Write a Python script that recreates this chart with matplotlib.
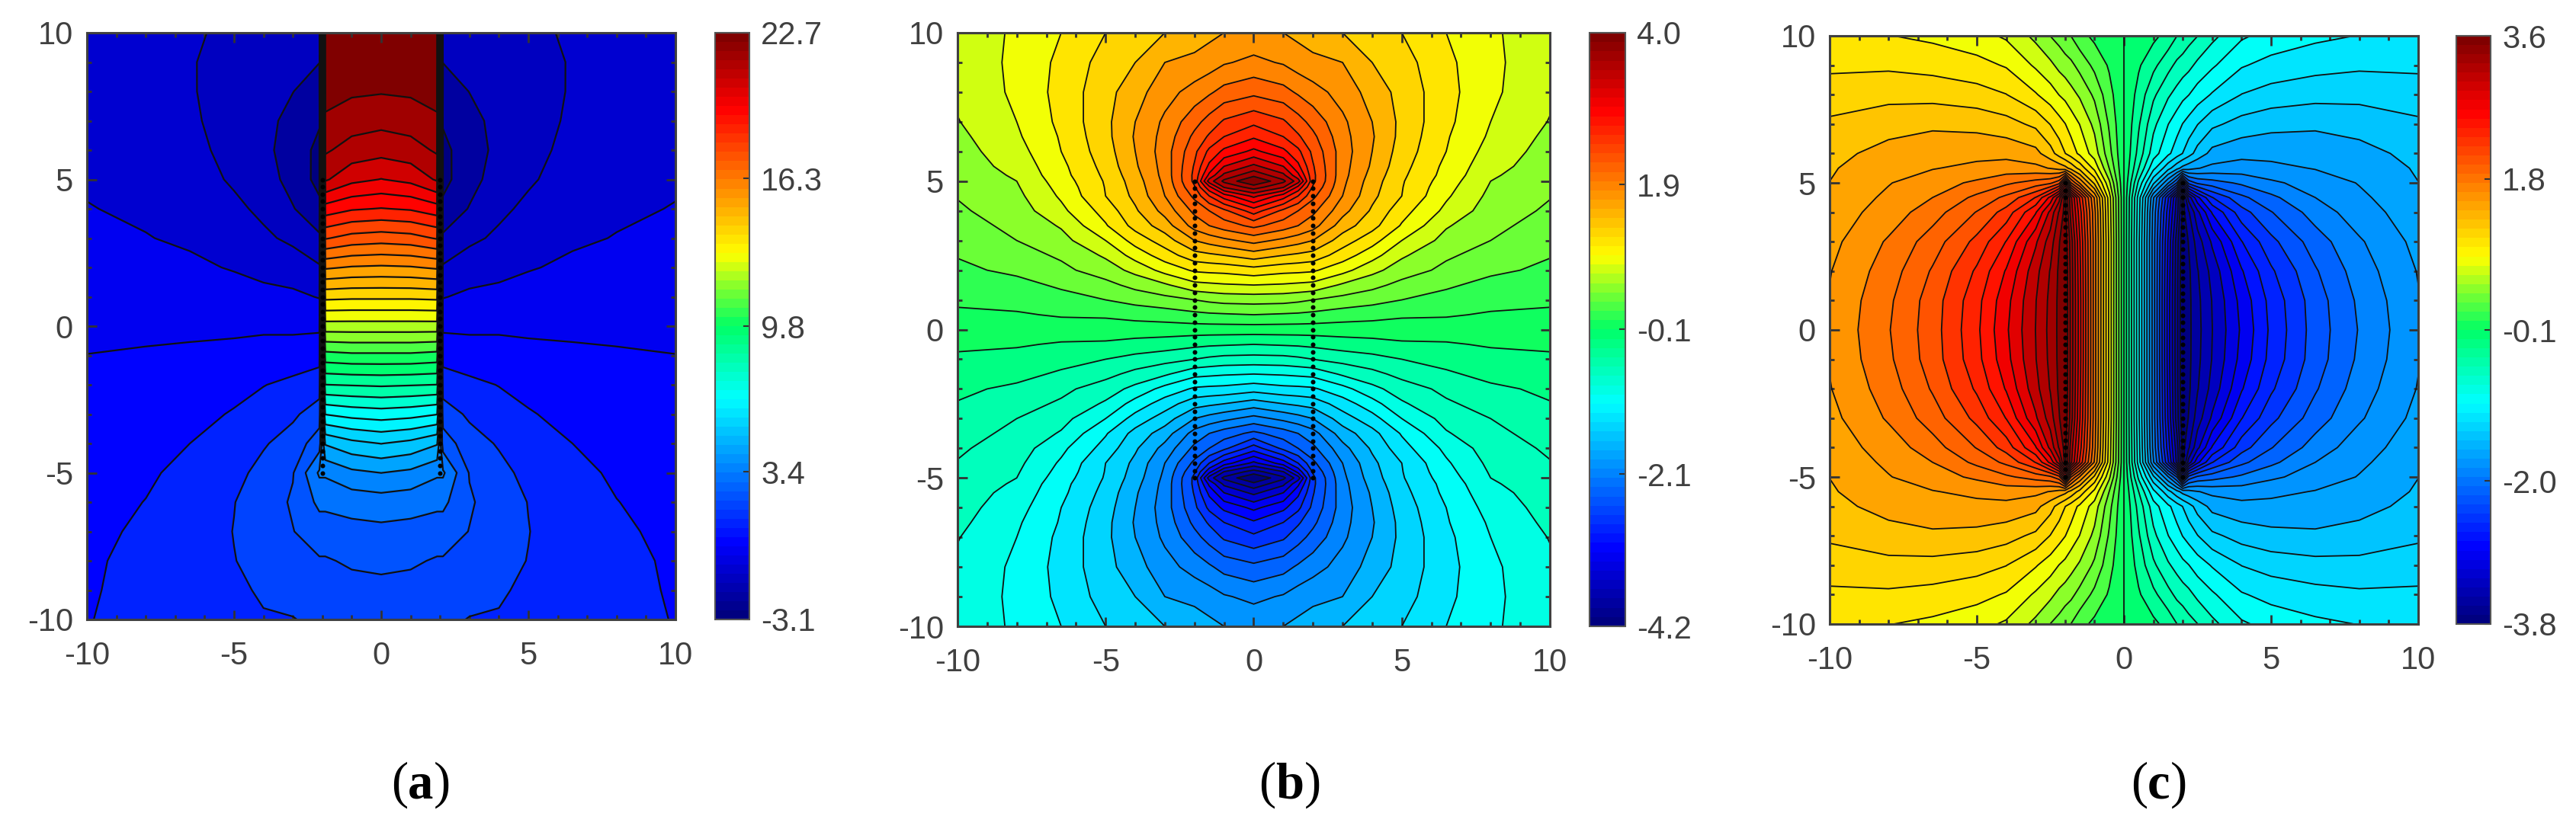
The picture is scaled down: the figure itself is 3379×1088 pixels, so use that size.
import matplotlib
matplotlib.use('Agg')
import matplotlib.pyplot as plt
from matplotlib.cm import ScalarMappable
from matplotlib.colors import LinearSegmentedColormap, Normalize
from matplotlib.ticker import MultipleLocator
import numpy as np

plt.rcParams['font.family'] = ['Liberation Sans', 'DejaVu Sans']
plt.rcParams['axes.unicode_minus'] = False

W, H = 3380, 1088

# values, right half of panel a (x >= 0), top row first
xa = [0, 1, 1.9, 2.1, 3, 4, 5, 6.5, 8, 10]
ya = [10, 9, 8, 7, 6, 5, 4, 3, 2, 1, 0, -1, -2, -3, -4, -5, -6, -7, -8, -9, -10]
za = [
    [22.7, 22.7, 22.7, -1.5, -1.35, -1.35, -1.27, -1.1, -.95, -.8],
    [22.5, 22.55, 22.6, -1.8, -1.55, -1.45, -1.35, -1.13, -.93, -.78],
    [22.1, 22.15, 22.3, -2.1, -1.8, -1.55, -1.4, -1.12, -.9, -.74],
    [21.6, 21.7, 21.95, -2.4, -2.0, -1.62, -1.42, -1.07, -.85, -.7],
    [21.0, 21.15, 21.5, -2.6, -2.15, -1.62, -1.35, -1.0, -.8, -.65],
    [20.1, 20.3, 20.85, -2.65, -2.05, -1.5, -1.25, -.88, -.7, -.58],
    [18.8, 18.9, 19.2, -2.3, -1.77, -1.3, -1.03, -.73, -.6, -.5],
    [17.2, 17.3, 17.6, -1.7, -1.3, -1.05, -.8, -.6, -.5, -.38],
    [15.5, 15.55, 15.7, -1.1, -.83, -.68, -.56, -.42, -.35, -.25],
    [13.8, 13.8, 13.85, -.55, -.4, -.37, -.28, -.2, -.17, -.1],
    [12.1, 12.1, 12.1, 0, 0, 0, 0, 0, 0, .03],
    [10.3, 10.3, 10.2, .55, .42, .42, .3, .23, .18, .13],
    [8.6, 8.55, 8.5, 1.1, .92, .75, .58, .4, .35, .25],
    [6.9, 6.8, 6.6, 1.75, 1.3, 1.05, .82, .58, .48, .37],
    [5.3, 5.1, 4.7, 2.4, 1.7, 1.35, 1.0, .77, .6, .47],
    [4.0, 3.85, 3.45, 3.45, 2.02, 1.62, 1.22, .9, .7, .54],
    [3.05, 2.97, 2.85, 2.85, 2.14, 1.72, 1.4, 1.02, .78, .6],
    [2.55, 2.5, 2.4, 2.4, 2.04, 1.72, 1.43, 1.08, .85, .65],
    [2.2, 2.15, 2.0, 2.0, 1.75, 1.58, 1.4, 1.1, .9, .7],
    [1.9, 1.85, 1.7, 1.7, 1.55, 1.47, 1.33, 1.1, .92, .72],
    [1.7, 1.65, 1.5, 1.5, 1.4, 1.38, 1.27, 1.05, .92, .75],
]

# panel b, upper right quadrant
xb = [0, 1, 1.5, 2, 3, 4, 5, 6.5, 8, 10]
yb = [10, 9, 8, 7, 6.5, 6, 5.5, 5.2, 5, 4.8, 4.5, 4, 3.5, 3, 2.5, 2, 1.5, 1, .5, 0]
zb = [
    [1.65, 1.6, 1.55, 1.5, 1.4, 1.28, 1.2, 1.0, .82, .72],
    [1.85, 1.78, 1.7, 1.65, 1.6, 1.4, 1.28, 1.05, .84, .68],
    [2.15, 2.07, 1.97, 1.88, 1.72, 1.52, 1.33, 1.07, .84, .64],
    [2.55, 2.43, 2.28, 2.13, 1.84, 1.6, 1.35, 1.05, .8, .59],
    [2.77, 2.6, 2.43, 2.25, 1.87, 1.62, 1.34, 1.02, .77, .55],
    [3.05, 2.85, 2.65, 2.35, 1.9, 1.6, 1.31, 1.0, .72, .52],
    [3.45, 3.2, 2.85, 2.42, 1.88, 1.57, 1.27, .95, .67, .49],
    [3.75, 3.45, 3.05, 2.45, 1.87, 1.53, 1.24, .93, .63, .46],
    [4.0, 3.65, 3.3, 2.45, 1.85, 1.5, 1.22, .9, .6, .45],
    [3.7, 3.42, 2.95, 2.38, 1.83, 1.48, 1.21, .87, .58, .43],
    [3.25, 2.9, 2.6, 2.25, 1.8, 1.45, 1.2, .83, .55, .41],
    [2.7, 2.35, 2.2, 2.05, 1.67, 1.37, 1.08, .75, .5, .37],
    [2.25, 2.1, 2.0, 1.88, 1.5, 1.27, .98, .62, .45, .32],
    [1.87, 1.75, 1.68, 1.6, 1.3, 1.08, .8, .53, .4, .27],
    [1.5, 1.4, 1.36, 1.32, 1.1, .88, .63, .43, .32, .21],
    [1.12, 1.06, 1.05, 1.03, .87, .66, .5, .35, .24, .16],
    [.8, .78, .76, .74, .57, .46, .34, .23, .14, .1],
    [.48, .47, .44, .4, .33, .27, .2, .13, .07, .03],
    [.2, .18, .17, .15, .1, .07, .03, .02, -.02, -.03],
    [-.1, -.1, -.1, -.1, -.1, -.1, -.1, -.1, -.1, -.1],
]

# panel c, upper left quadrant
xc = [-10, -8, -6.5, -5, -4, -3, -2.5, -2.2, -2, -1.8, -1.5, -1, -.5, 0]
yc = [10, 9, 8, 7, 6, 5.5, 5, 4.5, 4, 3, 2, 1, 0]
zc = [
    [.9, .87, .83, .76, .68, .5, .38, .32, .26, .22, .12, .02, -.05, -.1],
    [1.0, 1.0, .97, .92, .85, .68, .58, .5, .46, .42, .33, .18, .04, -.1],
    [1.09, 1.13, 1.13, 1.09, 1.03, .88, .78, .7, .66, .6, .52, .35, .12, -.1],
    [1.22, 1.3, 1.32, 1.3, 1.25, 1.15, 1.02, .93, .87, .8, .7, .5, .2, -.1],
    [1.31, 1.39, 1.44, 1.46, 1.46, 1.4, 1.25, 1.12, 1.03, .95, .83, .63, .28, -.1],
    [1.33, 1.45, 1.5, 1.55, 1.58, 1.55, 1.5, 1.45, 1.4, 1.3, 1.13, .82, .38, -.1],
    [1.35, 1.5, 1.6, 1.7, 1.8, 1.9, 1.96, 2.1, 2.6, 2.0, 1.65, 1.15, .58, -.1],
    [1.39, 1.54, 1.67, 1.87, 2.03, 2.32, 2.68, 3.05, 3.5, 3.0, 2.45, 1.65, .78, -.1],
    [1.42, 1.58, 1.76, 2.0, 2.22, 2.62, 3.0, 3.3, 3.5, 3.05, 2.55, 1.72, .8, -.1],
    [1.46, 1.69, 1.91, 2.2, 2.48, 2.93, 3.2, 3.43, 3.56, 3.2, 2.65, 1.75, .83, -.1],
    [1.5, 1.75, 2.01, 2.34, 2.65, 3.06, 3.29, 3.47, 3.6, 3.22, 2.68, 1.75, .83, -.1],
    [1.52, 1.8, 2.07, 2.42, 2.74, 3.11, 3.32, 3.48, 3.6, 3.23, 2.7, 1.75, .83, -.1],
    [1.53, 1.82, 2.08, 2.44, 2.77, 3.12, 3.33, 3.48, 3.6, 3.23, 2.7, 1.75, .83, -.1],
]

ticks_a = [-3.1, 3.4, 9.8, 16.3, 22.7]
ticks_b = [-4.2, -2.1, -0.1, 1.9, 4.0]
ticks_c = [-3.8, -2.0, -0.1, 1.8, 3.6]
axis_ticks = [-10, -5, 0, 5, 10]
plate_y = np.arange(-5, 5.01, 0.25)

# the bar is close to jet but its middle is a stronger green
bar_colors = [(0, (0, 0, .5)), (.125, (0, 0, 1)), (.375, (0, 1, 1)), (.5, (0, 1, .4)),
              (.56, (.45, 1, .2)), (.625, (1, 1, 0)), (.875, (1, 0, 0)), (1, (.5, 0, 0))]
cmap = LinearSegmentedColormap.from_list('bar', bar_colors, N=64)


def rect(l, t, r, b):
    return [l / W, 1 - b / H, (r - l) / W, (b - t) / H]


def panel(box, cbox, x, y, z, levels, ticks, lw, dots):
    ax = fig.add_axes(rect(*box))
    norm = Normalize(ticks[0], ticks[-1])
    ax.contourf(x, y, z, levels=levels, cmap=cmap, norm=norm)
    ax.contour(x, y, z, levels=levels[1:-1], colors='#111111', linewidths=lw,
               linestyles='solid')
    if dots:
        ax.scatter([-2] * len(plate_y), plate_y, s=11, c='k', zorder=3)
        ax.scatter([2] * len(plate_y), plate_y, s=11, c='k', zorder=3)
    ax.set_xlim(-10, 10)
    ax.set_ylim(-10, 10)
    ax.set_xticks(axis_ticks)
    ax.set_yticks(axis_ticks)
    ax.xaxis.set_minor_locator(MultipleLocator(1))
    ax.yaxis.set_minor_locator(MultipleLocator(1))
    ax.tick_params(which='major', direction='in', top=True, right=True, length=9,
                   width=2, color='#333333', labelsize=30, labelcolor='#404040')
    ax.tick_params(which='minor', direction='in', top=True, right=True, length=4,
                   width=2, color='#333333')
    ax.tick_params(axis='x', which='major', pad=20)
    ax.tick_params(axis='y', which='major', pad=13)
    for s in ax.spines.values():
        s.set_linewidth(2.2)
        s.set_color('#404040')

    cax = fig.add_axes(rect(*cbox))
    cb = fig.colorbar(ScalarMappable(norm=norm, cmap=cmap), cax=cax, ticks=ticks)
    cb.ax.set_yticklabels(['%.1f' % t for t in ticks])
    cb.ax.tick_params(direction='in', length=6, width=1.5, color='#333333', pad=11,
                      labelsize=30, labelcolor='#404040')
    cb.outline.set_edgecolor('#555555')
    cb.outline.set_linewidth(1.5)


def label(cx, letter, half):
    base = 1 - 1047 / H
    fig.text(cx / W, base, letter, family='Liberation Serif', weight='bold', size=48,
             ha='center', va='baseline')
    fig.text((cx - half) / W, base, '(', family='Liberation Serif', size=48,
             ha='right', va='baseline')
    fig.text((cx + half) / W, base, ')', family='Liberation Serif', size=48,
             ha='left', va='baseline')


if __name__ == '__main__':
    fig = plt.figure(figsize=(W / 100, H / 100), dpi=100)

    # a: mirrored about x=0
    qa = np.array(za)
    full_xa = np.r_[-np.array(xa[:0:-1]), xa]
    full_za = np.hstack([qa[:, :0:-1], qa])
    panel((114, 43, 886, 813), (938, 43, 983, 813), full_xa, ya, full_za,
          np.linspace(-3.1, 22.7, 41), ticks_a, 1.6, True)

    # b: mirrored about x=0, bottom half is the top one turned round -0.1
    qb = np.array(zb)
    half_b = np.hstack([qb[:, :0:-1], qb])
    full_zb = np.vstack([half_b, -half_b[-2::-1] - 0.2])
    full_xb = np.r_[-np.array(xb[:0:-1]), xb]
    full_yb = np.r_[yb, -np.array(yb[-2::-1])]
    panel((1256, 43, 2033, 822), (2085, 43, 2132, 822), full_xb, full_yb, full_zb,
          np.linspace(-4.2, 4.0, 42), ticks_b, 1.3, True)

    # c: mirrored about y=0, right half is the left one turned round -0.1
    qc = np.array(zc)
    half_c = np.vstack([qc, qc[-2::-1]])
    full_zc = np.hstack([half_c, -half_c[:, -2::-1] - 0.2])
    full_xc = np.r_[xc, -np.array(xc[-2::-1])]
    full_yc = np.r_[yc, -np.array(yc[-2::-1])]
    panel((2400, 47, 3172, 819), (3222, 47, 3267, 819), full_xc, full_yc, full_zc,
          np.linspace(-3.8, 3.6, 47), ticks_c, 1.3, True)

    label(552, 'a', 17)
    label(1692, 'b', 19)
    label(2832, 'c', 15)

    fig.savefig('out.png', dpi=100)
